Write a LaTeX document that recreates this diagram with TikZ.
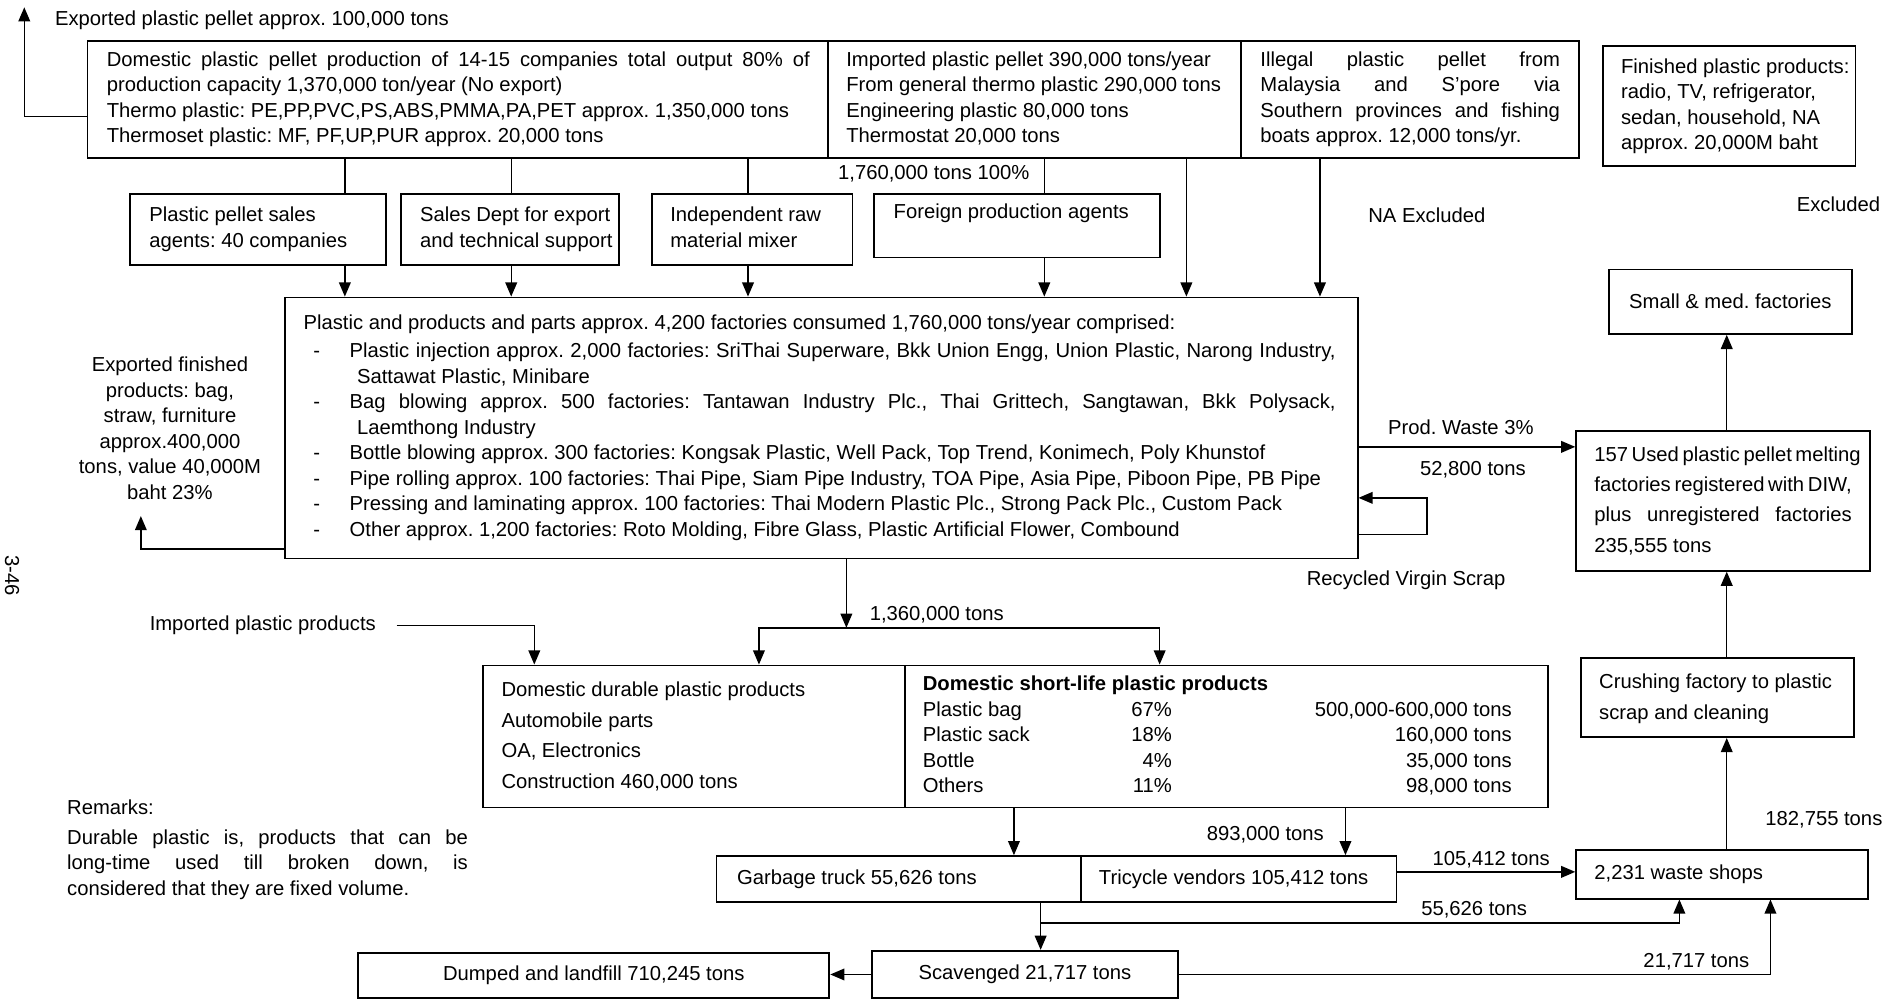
\documentclass[tikz,border=0pt]{standalone}
\usepackage{fontspec}
\setmainfont{Liberation Sans}
\usetikzlibrary{arrows.meta}

% lines of a box, set as a one-column table so they never re-break
\newcommand\txtlines[1]{\begin{tabular}{@{}l@{}}#1\end{tabular}}
\newcommand\ctrlines[1]{\begin{tabular}{@{}c@{}}#1\end{tabular}}
% list item dash and continuation indent inside the factory box
\newcommand\bul{\hspace*{4.8pt}\makebox[18pt][l]{-}}
\newcommand\cont{\hspace*{26.4pt}}
% a line spread to a given width
\newcommand\jl[2]{{\spaceskip=\fontdimen2\font plus 1fil minus 1pt\relax\makebox[#1][s]{#2}}}
% a single centred line
\newcommand\ctr[1]{\makebox[\linewidth][c]{#1}}
% \bx{name}{x1}{y1}{x2}{y2}{left pad}{options}{content}
\newcommand\bx[8]{%
  \pgfmathsetmacro\bxw{(#4-#2)*0.6}%
  \pgfmathsetmacro\bxh{(#5-#3)*0.6}%
  \pgfmathsetmacro\bxt{(#4-#2-2*(#6))*0.6}%
  \node[bxs, minimum width=\bxw pt, minimum height=\bxh pt, text width=\bxt pt, #7]
    (#1) at ({(#2+#4)/2},{(#3+#5)/2}) {\leavevmode\spaceskip=0pt\xspaceskip=0pt\relax#8};}

\begin{document}
\begin{tikzpicture}[x=0.6pt,y=-0.6pt,
  font=\fontsize{10}{12.6}\selectfont\frenchspacing,
  bxs/.style={draw, line width=0.9pt, inner sep=0pt},
  ln/.style={line width=0.7pt},
  arr/.style={line width=0.7pt, -{Triangle[length=7pt,width=5.8pt]}},
  lbl/.style={inner sep=0pt}]

\useasboundingbox (0,0) rectangle (1568,828);

% ---------------- raw material sources ----------------
\bx{A}{72}{34}{682}{130}{16}{}{\txtlines{%
\jl{347.4pt}{Domestic plastic pellet production of 14-15 companies total output 80\% of}\\
production capacity 1,370,000 ton/year (No export)\\
Thermo plastic: PE,PP,PVC,PS,ABS,PMMA,PA,PET approx. 1,350,000 tons\\
Thermoset plastic: MF, PF,UP,PUR approx. 20,000 tons}}

\bx{B}{682}{34}{1022}{130}{15}{}{\txtlines{%
Imported plastic pellet 390,000 tons/year\\
From general thermo plastic 290,000 tons\\
Engineering plastic 80,000 tons\\
Thermostat 20,000 tons}}

\bx{C}{1022}{34}{1300}{130}{16}{}{\txtlines{%
\jl{148pt}{Illegal plastic pellet from}\\
\jl{148pt}{Malaysia and S'pore via}\\
\jl{148pt}{Southern provinces and fishing}\\
boats approx. 12,000 tons/yr.}}

\bx{D}{1320}{38}{1528}{137}{15}{}{\txtlines{%
Finished plastic products:\\
radio, TV, refrigerator,\\
sedan, household, NA\\
approx. 20,000M baht}}

\node[lbl, anchor=west] (EP) at (45,17) {Exported plastic pellet approx. 100,000 tons};
\coordinate (eptip) at (20,6);
\node[lbl] (L1760) at (769,143) {1,760,000 tons 100\%};
\node[lbl] (NAex) at (1175,177) {NA Excluded};
\node[lbl] (Excl) at (1514,168) {Excluded};

% ---------------- agents ----------------
\bx{A1}{107}{160}{318}{218}{16}{}{\txtlines{Plastic pellet sales\\agents: 40 companies}}
\bx{A2}{330}{160}{510}{218}{16}{}{\txtlines{Sales Dept for export\\and technical support}}
\bx{A3}{537}{160}{702}{218}{15}{}{\txtlines{Independent raw\\material mixer}}
\bx{A4}{720}{160}{955}{212}{16}{}{\txtlines{Foreign production agents\\ ~}}

% ---------------- converters ----------------
\bx{M}{235}{245}{1118}{460}{15}{}{\txtlines{%
Plastic and products and parts approx. 4,200 factories consumed 1,760,000 tons/year comprised:\\[1.2pt]
\bul\jl{487.2pt}{Plastic injection approx. 2,000 factories: SriThai Superware, Bkk Union Engg, Union Plastic, Narong Industry,}\\
\cont Sattawat Plastic, Minibare\\
\bul\jl{487.2pt}{Bag blowing approx. 500 factories: Tantawan Industry Plc., Thai Grittech, Sangtawan, Bkk Polysack,}\\
\cont Laemthong Industry\\
\bul Bottle blowing approx. 300 factories: Kongsak Plastic, Well Pack, Top Trend, Konimech, Poly Khunstof\\
\bul Pipe rolling approx. 100 factories: Thai Pipe, Siam Pipe Industry, TOA Pipe, Asia Pipe, Piboon Pipe, PB Pipe\\
\bul Pressing and laminating approx. 100 factories: Thai Modern Plastic Plc., Strong Pack Plc., Custom Pack\\
\bul Other approx. 1,200 factories: Roto Molding, Fibre Glass, Plastic Artificial Flower, Combound}}

\node[lbl] (EF) at (140,354.5) {\ctrlines{Exported finished\\products: bag,\\straw, furniture\\approx.400,000\\tons, value 40,000M\\baht 23\%}};
\coordinate (efin) at (116,425);

\node[lbl] (PW) at (1203,352) {Prod. Waste 3\%};
\node[lbl] (t52) at (1213,387) {52,800 tons};
\node[lbl] (RVS) at (1158,478) {Recycled Virgin Scrap};

% ---------------- recycling chain ----------------
\bx{R0}{1325}{222}{1525}{275}{0}{}{\ctr{Small \& med. factories}}
\bx{R1}{1298}{355}{1540}{470}{15}{}{\renewcommand\arraystretch{1.18}\txtlines{%
\jl{127.2pt}{157 Used plastic pellet melting}\\
\jl{127.2pt}{factories registered with DIW,}\\
\jl{127.2pt}{plus unregistered factories}\\
235,555 tons}}
\bx{R2}{1302}{542}{1527}{607}{15}{}{\renewcommand\arraystretch{1.2}\txtlines{Crushing factory to plastic\\scrap and cleaning}}
\bx{W}{1298}{700}{1538}{740}{15}{}{2,231 waste shops}
\node[lbl] (t182) at (1502,675) {182,755 tons};

% ---------------- products ----------------
\node[lbl, anchor=west] (IPP) at (123,515) {Imported plastic products};
\node[lbl, anchor=west] (t1360) at (716,506) {1,360,000 tons};
\coordinate (split) at (697,517);

\bx{P1}{398}{548}{745}{665}{15}{}{\renewcommand\arraystretch{1.2}\txtlines{%
Domestic durable plastic products\\
Automobile parts\\
OA, Electronics\\
Construction 460,000 tons}}

\bx{P2}{745}{548}{1275}{665}{15}{}{\txtlines{%
\textbf{Domestic short-life plastic products}\\
\makebox[93pt][l]{Plastic bag}\makebox[30pt][r]{67\%}\makebox[168pt][r]{500,000-600,000 tons}\\
\makebox[93pt][l]{Plastic sack}\makebox[30pt][r]{18\%}\makebox[168pt][r]{160,000 tons}\\
\makebox[93pt][l]{Bottle}\makebox[30pt][r]{4\%}\makebox[168pt][r]{35,000 tons}\\
\makebox[93pt][l]{Others}\makebox[30pt][r]{11\%}\makebox[168pt][r]{98,000 tons}}}

\node[lbl, anchor=west] (REM) at (55,700) {\txtlines{%
Remarks:\\[2pt]
\jl{198pt}{Durable plastic is, products that can be}\\
\jl{198pt}{long-time used till broken down, is}\\
considered that they are fixed volume.}};

% ---------------- collection and disposal ----------------
\node[lbl] (t893) at (1042,687) {893,000 tons};
\bx{G}{590}{705}{890}{743}{17}{}{Garbage truck 55,626 tons}
\bx{T}{890}{705}{1150}{743}{15}{}{Tricycle vendors 105,412 tons}
\node[lbl] (t105) at (1228,708) {105,412 tons};
\node[lbl] (t55) at (1214,749) {55,626 tons};
\coordinate (gbr) at (857,760);
\bx{S}{718}{783}{970}{822}{0}{}{\ctr{Scavenged 21,717 tons}}
\bx{Dm}{295}{785}{683}{822}{0}{}{\ctr{Dumped and landfill 710,245 tons}}
\node[lbl] (t21) at (1397,792) {21,717 tons};

\node[lbl, rotate=-90] (pg) at (10,474) {3-46};

% ---------------- connectors ----------------
\draw[arr] (A.west |- 0,96) -- (20,96) -- (eptip);

\draw[ln] (284,0 |- A.south) -- (284,0 |- A1.north);
\draw[ln] (421,0 |- A.south) -- (421,0 |- A2.north);
\draw[ln] (616,0 |- A.south) -- (616,0 |- A3.north);
\draw[ln] (860,0 |- B.south) -- (860,0 |- A4.north);

\draw[arr] (284,0 |- A1.south) -- (284,0 |- M.north);
\draw[arr] (421,0 |- A2.south) -- (421,0 |- M.north);
\draw[arr] (616,0 |- A3.south) -- (616,0 |- M.north);
\draw[arr] (860,0 |- A4.south) -- (860,0 |- M.north);
\draw[arr] (977,0 |- B.south) -- (977,0 |- M.north);
\draw[arr] (1087,0 |- C.south) -- (1087,0 |- M.north);

\draw[arr] (M.west |- 0,452) -- (116,452) -- (efin);
\draw[arr] (M.east |- 0,368) -- (R1.west |- 0,368);
\draw[arr] (M.east |- 0,440) -- (1175,440) -- (1175,410) -- (M.east |- 0,410);

\draw[arr] (R1.north -| 1422,0) -- (R0.south -| 1422,0);
\draw[arr] (R2.north -| 1422,0) -- (R1.south -| 1422,0);
\draw[arr] (W.north -| 1422,0) -- (R2.south -| 1422,0);

\draw[arr] (M.south -| 697,0) -- (split);
\draw[arr] (split) -- (625,517) -- (P1.north -| 625,0);
\draw[arr] (split) -- (955,517) -- (P2.north -| 955,0);
\draw[arr] ([xshift=10pt]IPP.east) -- (IPP.east -| 440,0) -- (P1.north -| 440,0);

\draw[arr] (P2.south -| 835,0) -- (G.north -| 835,0);
\draw[arr] (P2.south -| 1108,0) -- (T.north -| 1108,0);
\draw[arr] (T.east |- 0,718) -- (W.west |- 0,718);
\draw[arr] (G.south -| 857,0) -- (S.north -| 857,0);
\draw[arr] (gbr) -- (1383,760) -- (W.south -| 1383,0);
\draw[arr] (S.west) -- (S.west -| Dm.east);
\draw[arr] (S.east) -- (S.east -| 1458,0) -- (W.south -| 1458,0);

\end{tikzpicture}
\end{document}
